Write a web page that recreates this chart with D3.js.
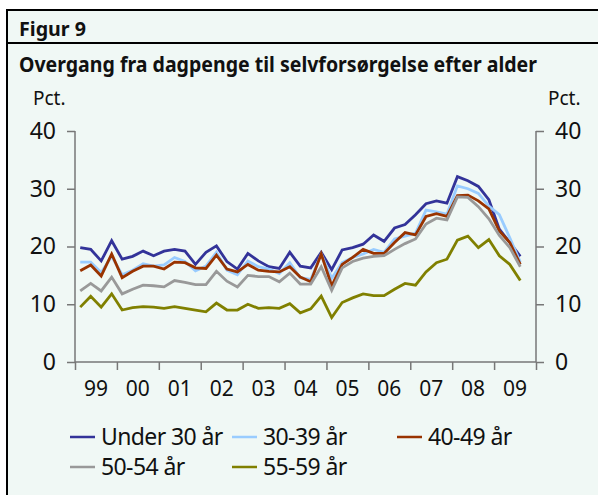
<!DOCTYPE html>
<html>
<head>
<meta charset="utf-8">
<script src="https://cdn.jsdelivr.net/npm/d3@7"></script>
<style>
  body { margin: 0; background: #fff; }
  text { font-family: "Noto Sans", "Open Sans", sans-serif; fill: #111; }
</style>
</head>
<body>
<div id="chart"></div>
<script>
// year labels on the x axis (quarterly data, 1999K1 - 2009K3)
var years = ["99","00","01","02","03","04","05","06","07","08","09"];
var yTicks = [0, 10, 20, 30, 40];

// Pct.
var under30 = [19.8,19.5,17.5,21.0,17.8,18.3,19.2,18.4,19.2,19.5,19.2,16.9,19.0,20.1,17.4,16.1,18.8,17.5,16.5,16.2,19.0,16.6,16.3,19.0,16.0,19.4,19.8,20.4,22.0,20.9,23.2,23.8,25.5,27.4,27.9,27.5,32.1,31.4,30.4,28.1,23.0,20.7,18.3];
var age3039 = [17.3,17.3,15.5,18.3,15.1,15.9,17.0,16.6,16.8,18.1,17.4,15.8,16.6,19.0,15.9,15.1,17.5,16.5,16.1,15.3,17.2,14.6,14.3,18.7,14.5,17.2,18.1,18.7,19.5,19.0,21.3,21.8,22.3,26.3,26.0,25.6,30.5,30.0,29.2,27.0,25.5,21.5,17.3];
var age4049 = [15.8,16.8,14.9,18.7,14.6,15.7,16.6,16.6,16.1,17.3,17.2,16.3,16.2,18.5,16.1,15.6,16.9,15.9,15.7,15.6,16.5,14.7,13.9,18.7,13.2,16.9,18.1,19.5,18.8,18.8,20.7,22.4,22.0,25.2,25.7,25.2,28.8,28.9,27.9,26.5,22.7,20.7,16.9];
var age5054 = [12.3,13.6,12.3,14.7,11.8,12.6,13.3,13.2,13.0,14.1,13.8,13.4,13.4,15.7,14.0,13.0,15.0,14.8,14.8,13.9,15.4,13.5,13.5,16.5,12.4,16.3,17.4,18.0,18.3,18.4,19.5,20.5,21.3,23.9,24.9,24.6,28.6,28.5,26.9,24.8,21.9,19.8,16.5];
var age5559 = [9.5,11.4,9.5,11.8,9.0,9.4,9.6,9.5,9.3,9.6,9.3,9.0,8.7,10.2,9.0,9.0,10.0,9.3,9.4,9.3,10.1,8.5,9.2,11.4,7.7,10.3,11.1,11.8,11.5,11.5,12.6,13.6,13.3,15.6,17.2,17.8,21.1,21.8,19.8,21.2,18.4,16.9,14.1];

var seriesNames = ["Under 30 år", "30-39 år", "40-49 år", "50-54 år", "55-59 år"];
var seriesData = [under30, age3039, age4049, age5054, age5559];
var colors = ["#333399", "#99ccff", "#993300", "#999999", "#808000"];

var W = 598, H = 495;
var plotLeft = 75, plotRight = 536, plotTop = 131, plotBottom = 362;

var svg = d3.select("#chart").append("svg")
    .attr("width", W)
    .attr("height", H);

// frame
svg.append("rect")
    .attr("x", 7).attr("y", 10)
    .attr("width", W + 10).attr("height", H + 10)
    .style("fill", "#f0f8f5")
    .style("stroke", "#000")
    .style("stroke-width", 2);
svg.append("line")
    .attr("x1", 7).attr("x2", W)
    .attr("y1", 43).attr("y2", 43)
    .style("stroke", "#000").style("stroke-width", 2);

svg.append("text").attr("x", 19).attr("y", 36)
    .text("Figur 9")
    .attr("textLength", 67).attr("lengthAdjust", "spacingAndGlyphs")
    .style("font-size", "20px").style("font-weight", "bold");
svg.append("text").attr("x", 19).attr("y", 72)
    .text("Overgang fra dagpenge til selvforsørgelse efter alder")
    .attr("textLength", 518).attr("lengthAdjust", "spacingAndGlyphs")
    .style("font-size", "22px").style("font-weight", "bold");
svg.append("text").attr("x", 33).attr("y", 105).text("Pct.").style("font-size", "19px");
svg.append("text").attr("x", 548).attr("y", 105).text("Pct.").style("font-size", "19px");

// scales
var x = d3.scaleLinear().domain([0, years.length * 4]).range([plotLeft, plotRight]);
var y = d3.scaleLinear().domain([0, 40]).range([plotBottom, plotTop]);

// left axis
var yAxisL = svg.append("g")
    .attr("transform", "translate(" + plotLeft + ",0)")
    .call(d3.axisLeft(y).tickValues(yTicks).tickSize(8).tickPadding(11));
// right axis
var yAxisR = svg.append("g")
    .attr("transform", "translate(" + plotRight + ",0)")
    .call(d3.axisRight(y).tickValues(yTicks).tickSize(8).tickPadding(11));
// x axis: ticks at year boundaries
var xAxis = svg.append("g")
    .attr("transform", "translate(0," + plotBottom + ")")
    .call(d3.axisBottom(x).tickValues(d3.range(0, years.length * 4 + 1, 4)).tickSize(8).tickFormat(""));

[yAxisL, yAxisR, xAxis].forEach(function (g) {
  g.select(".domain").style("stroke", "#777").style("stroke-width", 1.5);
  g.selectAll(".tick line").style("stroke", "#777").style("stroke-width", 1.5);
  g.selectAll(".tick text").style("font-size", "23px").style("fill", "#111")
    .style("font-family", "'Noto Sans', sans-serif");
});
// plain axis lines, no overhang
xAxis.select(".domain").attr("d", "M" + plotLeft + ",0H" + plotRight);
yAxisL.select(".domain").attr("d", "M0," + plotBottom + "V" + plotTop);
yAxisR.select(".domain").attr("d", "M0," + plotBottom + "V" + plotTop);

// year labels centred in each year
svg.append("g").selectAll("text")
  .data(years)
  .enter()
  .append("text")
    .attr("x", function (d, i) { return x(i * 4 + 2); })
    .attr("y", 396)
    .attr("text-anchor", "middle")
    .text(function (d) { return d; })
    .style("font-size", "21px");

// lines
var line = d3.line()
    .x(function (d, i) { return x(i + 0.5); })
    .y(function (d) { return y(d); });

svg.append("g").selectAll("path")
  .data(seriesData)
  .enter()
  .append("path")
    .attr("d", line)
    .style("fill", "none")
    .style("stroke", function (d, i) { return colors[i]; })
    .style("stroke-width", 2.8)
    .style("stroke-linejoin", "miter");

// legend
var legendX = [70, 232, 397, 70, 232];
var legendY = [437, 437, 437, 467, 467];
var leg = svg.append("g").selectAll("g")
  .data(seriesNames)
  .enter()
  .append("g")
    .attr("transform", function (d, i) { return "translate(" + legendX[i] + "," + legendY[i] + ")"; });
leg.append("line")
    .attr("x1", 0).attr("x2", 25)
    .style("stroke", function (d, i) { return colors[i]; })
    .style("stroke-width", 2.5);
leg.append("text")
    .attr("x", 31).attr("y", 8)
    .text(function (d) { return d; })
    .style("font-size", "23px")
    .style("letter-spacing", "-0.6px");
</script>
</body>
</html>
